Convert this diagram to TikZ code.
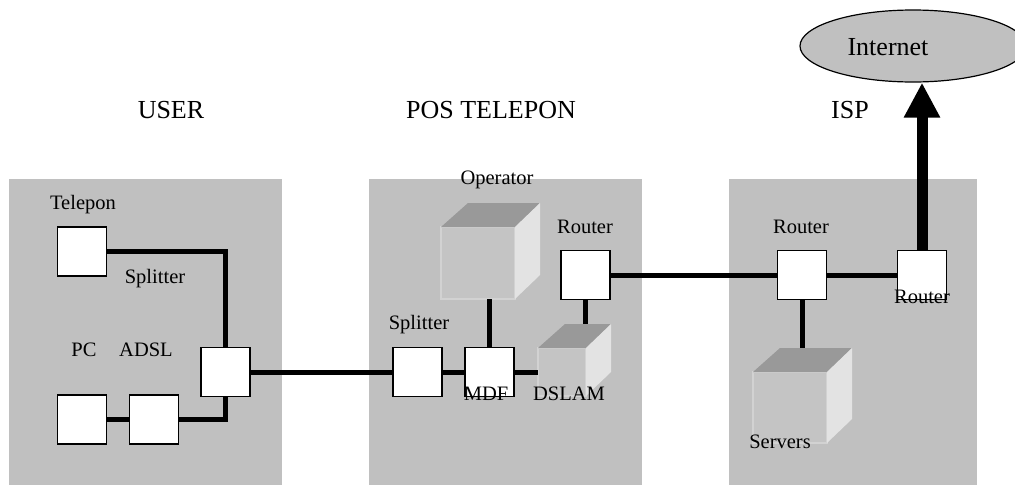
\documentclass[tikz,border=0pt]{standalone}
\usepackage{fontspec}
\setmainfont{Liberation Serif}
\usetikzlibrary{arrows.meta,calc,shapes.geometric}
\definecolor{panelgray}{HTML}{C0C0C0}
\definecolor{cubetopc}{HTML}{999999}
\definecolor{cubesidec}{HTML}{E3E3E3}
\definecolor{cubefrontc}{HTML}{C4C4C4}
\definecolor{cubeedgec}{HTML}{D2D2D2}
\newcommand\cubefaces[1]{%
  \fill[cubetopc] (#1.north west) -- ++(27,-24) -- ($(#1.north east)+(25,-24)$) -- (#1.north east) -- cycle;
  \fill[cubesidec] (#1.north east) -- ++(25,-24) -- ($(#1.south east)+(25,-24)$) -- (#1.south east) -- cycle;}
\begin{document}
\begin{tikzpicture}[x=1pt,y=-1pt,
  dev/.style={draw=black, line width=1.2pt, fill=white, minimum width=49pt, minimum height=49pt, inner sep=0pt, outer sep=0pt},
  cubefront/.style={fill=cubefrontc, draw=cubeedgec, line width=1.5pt, inner sep=0pt, outer sep=0pt},
  link/.style={line width=5pt},
  lbl/.style={font=\fontsize{20.5}{24}\selectfont, inner sep=0pt, anchor=base},
  big/.style={font=\fontsize{26}{30}\selectfont, inner sep=0pt, anchor=base}]
\useasboundingbox (0,0) rectangle (1015,485);
% panels
\fill[panelgray] (9,179) rectangle (282,485);
\fill[panelgray] (369,179) rectangle (642,485);
\fill[panelgray] (729,179) rectangle (977,485);
% internet cloud
\node[ellipse, draw=black, line width=1.2pt, fill=panelgray, minimum width=226pt, minimum height=72pt, inner sep=0pt] (internet) at (913,46) {};
% cubes
\node[cubefront, minimum width=74pt, minimum height=72pt] (op) at (478,263) {};
\cubefaces{op}
\node[cubefront, minimum width=48pt, minimum height=48pt] (dslam) at (562,372) {};
\cubefaces{dslam}
\node[cubefront, minimum width=74pt, minimum height=71pt] (serv) at (790,407.5) {};
\cubefaces{serv}
\coordinate (dslamback) at ($(dslam.north west)+(0,-24)$);
\coordinate (servback) at ($(serv.north west)+(0,-24)$);
% boxes
\node[dev] (tel) at (82,251.5) {};
\node[dev] (usplit) at (225.5,372) {};
\node[dev] (pc) at (82,419.5) {};
\node[dev] (adsl) at (154,419.5) {};
\node[dev] (msplit) at (417.5,372) {};
\node[dev] (mdf) at (489.5,372) {};
\node[dev] (mrouter) at (585.5,275) {};
\node[dev] (irouter) at (802,275) {};
\node[dev] (rrouter) at (922,275) {};
% links
\draw[link] (tel.east) -| (usplit.north);
\draw[link] (usplit.south) |- (adsl.east);
\draw[link] (pc.east) -- (adsl.west);
\draw[link] (usplit.east) -- (msplit.west);
\draw[link] (msplit.east) -- (mdf.west);
\draw[link] (mdf.east) -- (dslam.west);
\draw[link] (mdf.north) -- (mdf.north |- op.south);
\draw[link] (mrouter.south) -- (mrouter.south |- dslamback);
\draw[link] (mrouter.east) -- (irouter.west);
\draw[link] (irouter.east) -- (rrouter.west);
\draw[link] (irouter.south) -- (irouter.south |- servback);
\draw[line width=11pt, -{Triangle[width=34pt,length=35pt]}] (rrouter.north) -- (rrouter.north |- internet.south);
% labels
\node[big] (luser) at (171,118) {USER};
\node[big] (lpos) at (491,118) {POS TELEPON};
\node[big] (lisp) at (850,118) {ISP};
\node[big] (linet) at (888,55) {Internet};
\node[lbl] (ltel) at (83,209) {Telepon};
\node[lbl] (lusplit) at (155,283) {Splitter};
\node[lbl] (lpc) at (84,356) {PC};
\node[lbl] (ladsl) at (146,356) {ADSL};
\node[lbl] (lop) at (497,184) {Operator};
\node[lbl] (lmrouter) at (585,233) {Router};
\node[lbl] (lmsplit) at (419,329) {Splitter};
\node[lbl] (lmdf) at (486,400) {MDF};
\node[lbl] (ldslam) at (569,400) {DSLAM};
\node[lbl] (lirouter) at (801,233) {Router};
\node[lbl] (lrrouter) at (922,303) {Router};
\node[lbl] (lserv) at (780,448) {Servers};
\end{tikzpicture}
\end{document}
